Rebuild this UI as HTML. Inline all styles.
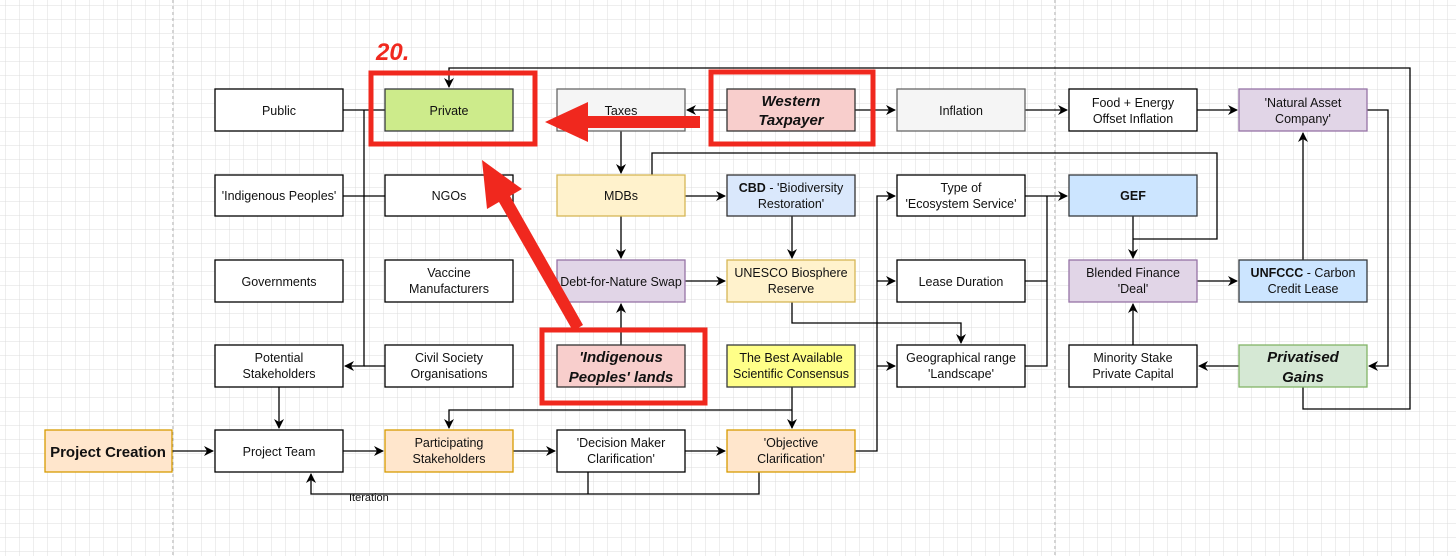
<!DOCTYPE html>
<html><head><meta charset="utf-8"><style>
html,body{margin:0;padding:0;background:#fff}
svg{display:block}
text{font-family:"Liberation Sans",sans-serif;font-size:12.5px;fill:#111}
</style></head><body>
<svg width="1456" height="556" viewBox="0 0 1456 556" xmlns="http://www.w3.org/2000/svg">
<defs>
<pattern id="g" width="14" height="14" patternUnits="userSpaceOnUse" x="5" y="5"><path d="M14 0H0V14" fill="none" stroke="#dcdcdc" stroke-width="1"/></pattern>
<marker id="a" markerWidth="10" markerHeight="10" refX="9" refY="5" orient="auto" markerUnits="userSpaceOnUse"><path d="M0,0 L10,5 L0,10 L3,5 z" fill="#000"/></marker>
</defs>
<rect width="1456" height="556" fill="url(#g)"/>
<line x1="173" y1="0" x2="173" y2="556" stroke="#aaa" stroke-dasharray="3,3"/>
<line x1="1055" y1="0" x2="1055" y2="556" stroke="#aaa" stroke-dasharray="3,3"/>
<g fill="none" stroke="#000" stroke-width="1.3">
<path d="M1303 387V409H1410V68H449V87" marker-end="url(#a)"/>
<path d="M343 110H385"/>
<path d="M343 196H385"/>
<path d="M364 110V366H345" marker-end="url(#a)"/>
<path d="M385 366H364"/>
<path d="M279 387V428" marker-end="url(#a)"/>
<path d="M172 451H213" marker-end="url(#a)"/>
<path d="M343 451H383" marker-end="url(#a)"/>
<path d="M513 451H555" marker-end="url(#a)"/>
<path d="M685 451H725" marker-end="url(#a)"/>
<path d="M588 472V494"/>
<path d="M759 472V494H311V474" marker-end="url(#a)"/>
<path d="M792 387V428" marker-end="url(#a)"/>
<path d="M792 410H449V428" marker-end="url(#a)"/>
<path d="M855 451H877V196H895" marker-end="url(#a)"/>
<path d="M877 281H895" marker-end="url(#a)"/>
<path d="M877 366H895" marker-end="url(#a)"/>
<path d="M1025 196H1067" marker-end="url(#a)"/>
<path d="M1025 281H1047M1025 366H1047V196"/>
<path d="M1133 216V258" marker-end="url(#a)"/>
<path d="M652 175V153H1217V239H1133"/>
<path d="M1197 281H1237" marker-end="url(#a)"/>
<path d="M1303 260V133" marker-end="url(#a)"/>
<path d="M1367 110H1388V366H1369" marker-end="url(#a)"/>
<path d="M1239 366H1199" marker-end="url(#a)"/>
<path d="M1133 345V304" marker-end="url(#a)"/>
<path d="M727 110H687" marker-end="url(#a)"/>
<path d="M855 110H895" marker-end="url(#a)"/>
<path d="M1025 110H1067" marker-end="url(#a)"/>
<path d="M1197 110H1237" marker-end="url(#a)"/>
<path d="M621 131V173" marker-end="url(#a)"/>
<path d="M685 196H725" marker-end="url(#a)"/>
<path d="M621 216V258" marker-end="url(#a)"/>
<path d="M792 216V258" marker-end="url(#a)"/>
<path d="M685 281H725" marker-end="url(#a)"/>
<path d="M621 345V304" marker-end="url(#a)"/>
<path d="M792 302V323H961V343" marker-end="url(#a)"/>
</g>
<text x="349" y="501" style="font-size:11px">Iteration</text>
<g stroke-width="1.3">
<rect x="215" y="89" width="128" height="42" fill="#fff" stroke="#000"/>
<rect x="385" y="89" width="128" height="42" fill="#cdeb8b" stroke="#36393d"/>
<rect x="557" y="89" width="128" height="42" fill="#f5f5f5" stroke="#666"/>
<rect x="727" y="89" width="128" height="42" fill="#f8cecc" stroke="#333"/>
<rect x="897" y="89" width="128" height="42" fill="#f5f5f5" stroke="#666"/>
<rect x="1069" y="89" width="128" height="42" fill="#fff" stroke="#000"/>
<rect x="1239" y="89" width="128" height="42" fill="#e1d5e7" stroke="#9673a6"/>
<rect x="215" y="175" width="128" height="41" fill="#fff" stroke="#000"/>
<rect x="385" y="175" width="128" height="41" fill="#fff" stroke="#000"/>
<rect x="557" y="175" width="128" height="41" fill="#fff2cc" stroke="#d6b656"/>
<rect x="727" y="175" width="128" height="41" fill="#dae8fc" stroke="#333"/>
<rect x="897" y="175" width="128" height="41" fill="#fff" stroke="#000"/>
<rect x="1069" y="175" width="128" height="41" fill="#cce5ff" stroke="#36393d"/>
<rect x="215" y="260" width="128" height="42" fill="#fff" stroke="#000"/>
<rect x="385" y="260" width="128" height="42" fill="#fff" stroke="#000"/>
<rect x="557" y="260" width="128" height="42" fill="#e1d5e7" stroke="#9673a6"/>
<rect x="727" y="260" width="128" height="42" fill="#fff2cc" stroke="#d6b656"/>
<rect x="897" y="260" width="128" height="42" fill="#fff" stroke="#000"/>
<rect x="1069" y="260" width="128" height="42" fill="#e1d5e7" stroke="#9673a6"/>
<rect x="1239" y="260" width="128" height="42" fill="#cce5ff" stroke="#36393d"/>
<rect x="215" y="345" width="128" height="42" fill="#fff" stroke="#000"/>
<rect x="385" y="345" width="128" height="42" fill="#fff" stroke="#000"/>
<rect x="557" y="345" width="128" height="42" fill="#f8cecc" stroke="#333"/>
<rect x="727" y="345" width="128" height="42" fill="#ffff88" stroke="#36393d"/>
<rect x="897" y="345" width="128" height="42" fill="#fff" stroke="#000"/>
<rect x="1069" y="345" width="128" height="42" fill="#fff" stroke="#000"/>
<rect x="1239" y="345" width="128" height="42" fill="#d5e8d4" stroke="#82b366"/>
<rect x="45" y="430" width="127" height="42" fill="#ffe6cc" stroke="#d79b00"/>
<rect x="215" y="430" width="128" height="42" fill="#fff" stroke="#000"/>
<rect x="385" y="430" width="128" height="42" fill="#ffe6cc" stroke="#d79b00"/>
<rect x="557" y="430" width="128" height="42" fill="#fff" stroke="#000"/>
<rect x="727" y="430" width="128" height="42" fill="#ffe6cc" stroke="#d79b00"/>
</g>
<g text-anchor="middle">
<text x="279" y="115">Public</text>
<text x="449" y="115">Private</text>
<text x="621" y="115">Taxes</text>
<text x="791" y="106" style="font-size:15px;font-weight:bold;font-style:italic">Western</text>
<text x="791" y="125" style="font-size:15px;font-weight:bold;font-style:italic">Taxpayer</text>
<text x="961" y="115">Inflation</text>
<text x="1133" y="107">Food + Energy</text>
<text x="1133" y="123">Offset Inflation</text>
<text x="1303" y="107">'Natural Asset</text>
<text x="1303" y="123">Company'</text>
<text x="279" y="200">'Indigenous Peoples'</text>
<text x="449" y="200">NGOs</text>
<text x="621" y="200">MDBs</text>
<text x="791" y="192"><tspan font-weight="bold">CBD</tspan> - 'Biodiversity</text>
<text x="791" y="208">Restoration'</text>
<text x="961" y="192">Type of</text>
<text x="961" y="208">'Ecosystem Service'</text>
<text x="1133" y="200" font-weight="bold">GEF</text>
<text x="279" y="286">Governments</text>
<text x="449" y="277">Vaccine</text>
<text x="449" y="293">Manufacturers</text>
<text x="621" y="286">Debt-for-Nature Swap</text>
<text x="791" y="277">UNESCO Biosphere</text>
<text x="791" y="293">Reserve</text>
<text x="961" y="286">Lease Duration</text>
<text x="1133" y="277">Blended Finance</text>
<text x="1133" y="293">'Deal'</text>
<text x="1303" y="277"><tspan font-weight="bold">UNFCCC</tspan> - Carbon</text>
<text x="1303" y="293">Credit Lease</text>
<text x="279" y="362">Potential</text>
<text x="279" y="378">Stakeholders</text>
<text x="449" y="362">Civil Society</text>
<text x="449" y="378">Organisations</text>
<text x="621" y="362" style="font-size:15px;font-weight:bold;font-style:italic">'Indigenous</text>
<text x="621" y="382" style="font-size:15px;font-weight:bold;font-style:italic">Peoples' lands</text>
<text x="791" y="362">The Best Available</text>
<text x="791" y="378">Scientific Consensus</text>
<text x="961" y="362">Geographical range</text>
<text x="961" y="378">'Landscape'</text>
<text x="1133" y="362">Minority Stake</text>
<text x="1133" y="378">Private Capital</text>
<text x="1303" y="362" style="font-size:15px;font-weight:bold;font-style:italic">Privatised</text>
<text x="1303" y="382" style="font-size:15px;font-weight:bold;font-style:italic">Gains</text>
<text x="108" y="457" style="font-size:15px;font-weight:bold">Project Creation</text>
<text x="279" y="456">Project Team</text>
<text x="449" y="447">Participating</text>
<text x="449" y="463">Stakeholders</text>
<text x="621" y="447">'Decision Maker</text>
<text x="621" y="463">Clarification'</text>
<text x="791" y="447">'Objective</text>
<text x="791" y="463">Clarification'</text>
</g>
<g fill="none" stroke="#f0281e" stroke-width="5">
<rect x="371" y="73" width="164" height="71"/>
<rect x="711" y="72" width="162" height="72"/>
<rect x="542" y="330" width="163" height="73"/>
</g>
<g fill="#f0281e">
<path d="M700 116V128H588V142L545 122L588 102V116Z"/>
<path d="M583 325L510 196L522 189L482 160L487 209L499 202L573 331Z"/>
</g>
<text x="376" y="60" style="font-size:24px;font-weight:bold;font-style:italic;fill:#f0281e">20.</text>
</svg>
</body></html>
